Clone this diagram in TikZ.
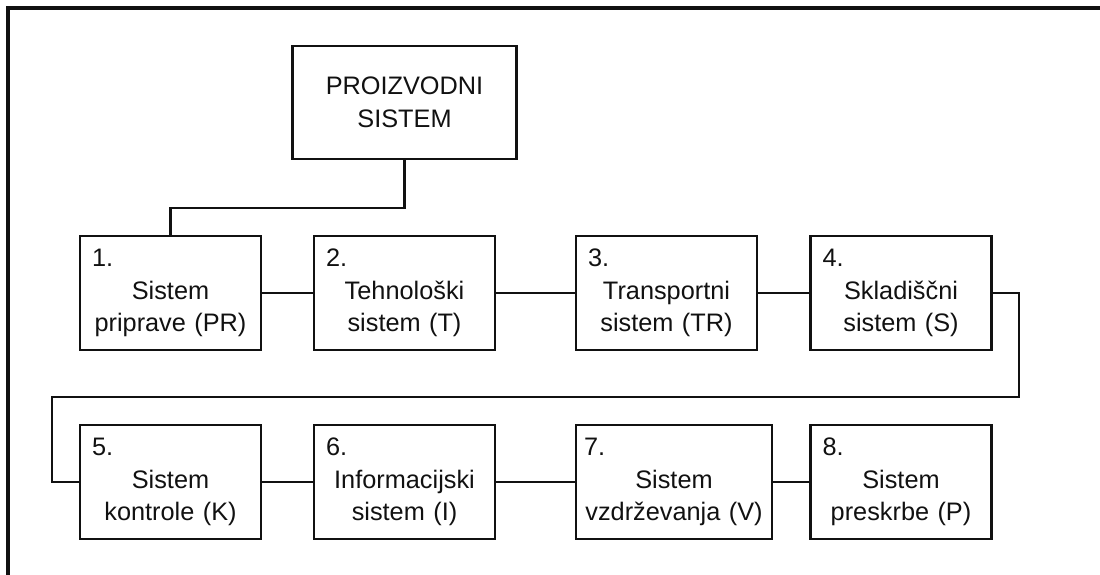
\documentclass[tikz,border=0pt]{standalone}
\usepackage{fontspec}
\setmainfont{Liberation Sans}
\usetikzlibrary{calc,positioning}
\definecolor{Ink}{HTML}{111111}
\newcommand{\boxno}[1]{\makebox[\hsize][l]{#1}}

\begin{document}
\begin{tikzpicture}[
    font=\fontsize{14.4}{18.5}\selectfont,
    sysbox/.style={draw=Ink,line width=1.5pt,minimum width=3.62cm,minimum height=2.28cm,
      inner xsep=0.24cm,inner ysep=0pt,text width=3.14cm,align=center,text=Ink},
    widebox/.style={sysbox,minimum width=3.92cm,inner xsep=0.16cm,text width=3.6cm},
    link/.style={line width=1.3pt,Ink}]
    \useasboundingbox (0,0) rectangle (22,-11.48);
    % frame, cut off at right and bottom
    \draw[line width=1.8pt,Ink] (22.2,-0.16)--(0.16,-0.16)--(0.16,-11.7);
    \node[sysbox,minimum width=4.34cm,minimum height=2.26cm,text width=4cm] (top) at (8.09,-2.05) {PROIZVODNI\\SISTEM};
    % first row
    \node[sysbox] (s1) at (3.41,-5.86) {\boxno{1.}\\Sistem\\priprave (PR)};
    \node[sysbox] (s2) at (8.09,-5.86) {\boxno{2.}\\Tehnološki\\sistem (T)};
    \node[sysbox] (s3) at (13.33,-5.86) {\boxno{3.}\\Transportni\\sistem (TR)};
    \node[sysbox] (s4) at (18.02,-5.86) {\boxno{4.}\\Skladiščni\\sistem (S)};
    % second row
    \node[sysbox] (s5) at (3.41,-9.64) {\boxno{5.}\\Sistem\\kontrole (K)};
    \node[sysbox] (s6) at (8.09,-9.64) {\boxno{6.}\\Informacijski\\sistem (I)};
    \node[widebox] (s7) at (13.48,-9.64) {\boxno{7.}\\Sistem\\vzdrževanja (V)};
    \node[sysbox] (s8) at (18.02,-9.64) {\boxno{8.}\\Sistem\\preskrbe (P)};
    \coordinate (wrapR) at (20.38,-7.94);
    \coordinate (wrapL) at (1.04,-9.64);
    \draw[link] (top.south)--++(0,-0.96)-|(s1.north);
    \draw[link] (s1.east)--(s2.west);
    \draw[link] (s2.east)--(s3.west);
    \draw[link] (s3.east)--(s4.west);
    \draw[link] (s4.east)-|(wrapR)-|(wrapL)--(s5.west);
    \draw[link] (s5.east)--(s6.west);
    \draw[link] (s6.east)--(s7.west);
    \draw[link] (s7.east)--(s8.west);
  \end{tikzpicture}
\end{document}
